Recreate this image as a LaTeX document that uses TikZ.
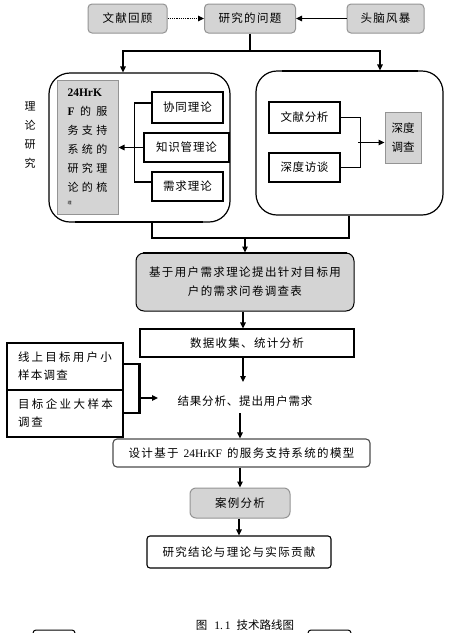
\documentclass[tikz,border=0pt]{standalone}
\usepackage{fontspec}
\setmainfont{Liberation Serif}
\newfontfamily\cjk{Noto Sans CJK SC}
\usetikzlibrary{arrows.meta,calc}
\newcommand\spreadtxt[2]{\hbox to #1{\spreadfirst#2\relax}}
\def\spreadfirst#1{\ifx\relax#1\else#1\expandafter\spreadnext\fi}
\def\spreadnext#1{\ifx\relax#1\else\hfill#1\expandafter\spreadnext\fi}
\tikzset{
  gbox/.style={draw=black!42, line width=1pt, fill=black!17, rounded corners=4pt, inner sep=0pt},
  wbox/.style={draw=black, line width=1.1pt, fill=white, inner sep=0pt},
  bigbox/.style={draw=black, line width=1.2pt, rounded corners=21pt, inner sep=0pt},
  conn/.style={line width=1.2pt},
  arr/.style={line width=1.2pt, -{Triangle[length=6pt,width=5.5pt]}},
  thickseg/.style={line width=2.6pt},
  plain/.style={inner sep=0pt},
}
\begin{document}
\begin{tikzpicture}[x=1pt,y=-1pt, font=\cjk\fontsize{11.5}{14}\selectfont]
\useasboundingbox (0,0) rectangle (452,633);
\fill[white] (0,0) rectangle (452,633);
% top row
\node[gbox, minimum width=79pt, minimum height=29pt] (wx) at (127.5,18.5) {\spreadtxt{50pt}{文献回顾}};
\node[gbox, minimum width=91pt, minimum height=29pt] (wt) at (250,18.5) {\spreadtxt{63pt}{研究的问题}};
\node[gbox, minimum width=77pt, minimum height=29pt] (tn) at (385.5,18.5) {\spreadtxt{50pt}{头脑风暴}};
\draw[arr, densely dotted] (wx) -- (wt);
\draw[arr] (tn) -- (wt);
% big boxes
\node[bigbox, minimum width=181pt, minimum height=149pt] (LB) at (139.5,147.5) {};
\node[bigbox, minimum width=187pt, minimum height=144pt] (RB) at (349.5,143) {};
\draw[thickseg] (75,222) -- (203,222);
\draw[thickseg] (282,71) -- (418,71);
% split
\coordinate (sp) at (250,51);
\coordinate (laT) at (123,51);
\coordinate (raT) at (380,51);
\draw[conn] (wt.south) -- (sp);
\draw[arr] (sp) -| (laT |- LB.north);
\draw[arr] (sp) -| (raT |- RB.north);
% left label
\node[plain, align=center, font=\cjk\fontsize{11}{19}\selectfont] (ll) at (30,135) {理\\论\\研\\究};
% left box content
\node[gbox, rounded corners=0pt, minimum width=61pt, minimum height=134pt, align=left,
      font=\cjk\fontsize{11}{19}\selectfont] (G) at (87.5,147) {%
  \hbox to 40pt{\rmfamily\bfseries\fontsize{11.5}{19}\selectfont 24HrK\hfill}\\
  \hbox to 40pt{{\rmfamily\bfseries\fontsize{11.5}{19}\selectfont F}\hfill 的\hfill 服}\\
  \spreadtxt{40pt}{务支持}\\
  \spreadtxt{40pt}{系统的}\\
  \spreadtxt{40pt}{研究理}\\
  \spreadtxt{40pt}{论的梳}\\[-6pt]
  {\fontsize{4}{4}\selectfont 理}};
\node[wbox, minimum width=71pt, minimum height=31pt] (xt) at (187.5,107.5) {\spreadtxt{49pt}{协同理论}};
\node[wbox, minimum width=85pt, minimum height=29pt] (zs) at (186.5,147.5) {\spreadtxt{61pt}{知识管理论}};
\node[wbox, minimum width=71pt, minimum height=29pt] (xq) at (187.5,186.5) {\spreadtxt{49pt}{需求理论}};
\draw[conn] ($(xt.west)+(0,-4.5)$) -- ++(-17,0) |- ($(xq.west)+(0,-4.5)$);
\draw[arr] (zs.west) -- (zs.west -| G.east);
% right box content
\node[wbox, minimum width=71pt, minimum height=31pt] (wf) at (304.5,117.5) {\spreadtxt{48pt}{文献分析}};
\node[wbox, minimum width=71pt, minimum height=29pt] (sf) at (304.5,167.5) {\spreadtxt{48pt}{深度访谈}};
\node[gbox, rounded corners=0pt, minimum width=36pt, minimum height=51pt, align=center,
      font=\cjk\fontsize{11.5}{19}\selectfont] (sd) at (403,138) {深度\\调查};
\draw[conn] (wf.east) -| ($(sf.east)+(20,0)$) -- (sf.east);
\coordinate (rj) at (358,142.5);
\draw[arr] (rj) -- (rj -| sd.west);
% join
\coordinate (jl) at (152,238);
\coordinate (jr) at (349,238);
\coordinate (jm) at (245,238);
\draw[conn] (jl |- LB.south) -- (jl) -- (jr) -- (jr |- RB.south);
% questionnaire
\node[gbox, draw=black, rounded corners=8pt, minimum width=218pt, minimum height=58pt, align=center,
      font=\cjk\fontsize{11.5}{19}\selectfont] (jy) at (245,282) {%
  \spreadtxt{192pt}{基于用户需求理论提出针对目标用}\\
  \spreadtxt{114pt}{户的需求问卷调查表}};
\draw[thickseg] (143,253) -- (347,253);
\draw[arr] (jm) -- (jm |- jy.north);
% data
\node[wbox, minimum width=214pt, minimum height=28pt] (sj) at (247,343) {\spreadtxt{114pt}{数据收集、统计分析}};
\coordinate (c1) at (243,0);
\draw[arr] (jy.south -| c1) -- (sj.north -| c1);
% result text
\node[plain] (jg) at (245,401) {\spreadtxt{135pt}{结果分析、提出用户需求}};
\coordinate (jgT) at (243,382);
\draw[arr] (sj.south -| c1) -- (jgT);
% left survey boxes
\node[wbox, minimum width=116pt, minimum height=47pt, align=left, inner xsep=11pt, text width=94pt,
      font=\cjk\fontsize{11.5}{18}\selectfont] (xs) at (65,366.5) {%
  \spreadtxt{94pt}{线上目标用户小}\\\spreadtxt{50pt}{样本调查}};
\node[wbox, minimum width=116pt, minimum height=47pt, align=left, inner xsep=11pt, text width=94pt,
      font=\cjk\fontsize{11.5}{18}\selectfont] (mb) at (65,413.5) {%
  \spreadtxt{95pt}{目标企业大样本}\\\spreadtxt{25pt}{调查}};
\draw[thickseg] ($(xs.east)+(0,-2.5)$) -- ++(16,0) |- ($(mb.east)+(0,-0.5)$);
\coordinate (ba) at (140,398);
\coordinate (bt) at (158,398);
\draw[arr] (ba) -- (bt);
% design
\node[wbox, draw=black!70, rounded corners=4pt, minimum width=257pt, minimum height=28pt] (sm) at (241.5,453)
  {\hbox to 226pt{\spreadfirst 设计基于\relax\hspace{5pt plus 1fil}{\rmfamily 24HrKF}\hspace{5pt plus 1fil}\spreadfirst 的服务支持系统的模型\relax}};
\coordinate (jgB) at (240,413);
\draw[arr] (jgB) -- (jgB |- sm.north);
% case
\node[gbox, rounded corners=6pt, minimum width=100pt, minimum height=30pt] (al) at (240,503) {\spreadtxt{50pt}{案例分析}};
\draw[arr] (sm.south -| al) -- (al.north);
% conclusion
\node[wbox, rounded corners=3pt, minimum width=184pt, minimum height=32pt] (yj) at (239,552) {\spreadtxt{153pt}{研究结论与理论与实际贡献}};
\draw[arr] (al.south -| yj) -- (yj.north);
% caption
\node[plain, font=\cjk\fontsize{11.5}{14}\selectfont] (cap) at (245,625)
  {图\hspace{7pt}{\rmfamily 1.\,1}\hspace{6pt}技术路线图};
% partial boxes at the bottom edge
\draw[line width=1pt, rounded corners=3pt] (33,640) -- (33,630) -- (75,630) -- (75,640);
\draw[line width=1pt, rounded corners=3pt] (308,640) -- (308,630) -- (351,630) -- (351,640);
\end{tikzpicture}
\end{document}
